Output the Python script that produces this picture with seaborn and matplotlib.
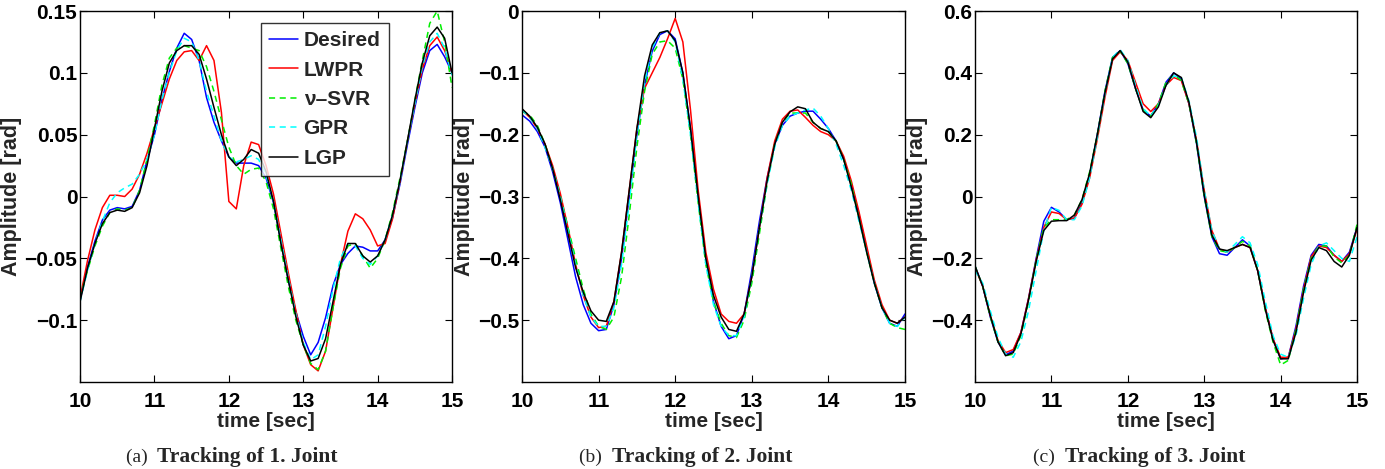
import numpy as np
import pandas as pd
import matplotlib.pyplot as plt
import seaborn as sns

# time axis shared by every series (0.1 s steps)
time = [10.0, 10.1, 10.2, 10.3, 10.4, 10.5, 10.6, 10.7, 10.8, 10.9,
        11.0, 11.1, 11.2, 11.3, 11.4, 11.5, 11.6, 11.7, 11.8, 11.9,
        12.0, 12.1, 12.2, 12.3, 12.4, 12.5, 12.6, 12.7, 12.8, 12.9,
        13.0, 13.1, 13.2, 13.3, 13.4, 13.5, 13.6, 13.7, 13.8, 13.9,
        14.0, 14.1, 14.2, 14.3, 14.4, 14.5, 14.6, 14.7, 14.8, 14.9, 15.0]

methods = ['Desired', 'LWPR', 'ν–SVR', 'GPR', 'LGP']

#### Joint 1
j1_desired = [-0.084, -0.057, -0.036, -0.019, -0.011, -0.009, -0.010, -0.008, 0.005, 0.029,
              0.050, 0.078, 0.101, 0.120, 0.132, 0.127, 0.110, 0.080, 0.060, 0.045,
              0.032, 0.027, 0.027, 0.027, 0.025, 0.015, -0.005, -0.037, -0.068, -0.093,
              -0.113, -0.128, -0.118, -0.098, -0.072, -0.055, -0.046, -0.040, -0.041, -0.044,
              -0.044, -0.035, -0.017, 0.010, 0.042, 0.072, 0.100, 0.118, 0.123, 0.113, 0.100]
j1_lwpr = [-0.082, -0.052, -0.027, -0.009, 0.001, 0.001, 0.000, 0.006, 0.018, 0.035,
           0.055, 0.075, 0.095, 0.110, 0.117, 0.118, 0.110, 0.122, 0.110, 0.068,
           -0.004, -0.010, 0.025, 0.044, 0.042, 0.025, 0.002, -0.030, -0.062, -0.092,
           -0.120, -0.136, -0.141, -0.125, -0.090, -0.055, -0.028, -0.014, -0.018, -0.027,
           -0.040, -0.038, -0.018, 0.012, 0.045, 0.075, 0.103, 0.122, 0.129, 0.118, 0.100]
j1_svr = [-0.082, -0.060, -0.040, -0.024, -0.013, -0.010, -0.011, -0.009, 0.005, 0.030,
          0.058, 0.090, 0.112, 0.120, 0.122, 0.120, 0.118, 0.105, 0.085, 0.062,
          0.040, 0.025, 0.018, 0.022, 0.023, 0.012, -0.010, -0.042, -0.073, -0.100,
          -0.120, -0.135, -0.140, -0.125, -0.090, -0.058, -0.040, -0.038, -0.048, -0.058,
          -0.050, -0.035, -0.013, 0.015, 0.045, 0.078, 0.110, 0.140, 0.150, 0.125, 0.088]
j1_gpr = [-0.085, -0.060, -0.038, -0.020, -0.005, 0.003, 0.007, 0.010, 0.018, 0.030,
          0.050, 0.078, 0.100, 0.118, 0.128, 0.125, 0.110, 0.085, 0.065, 0.045,
          0.032, 0.028, 0.030, 0.033, 0.030, 0.017, -0.004, -0.035, -0.066, -0.095,
          -0.118, -0.132, -0.128, -0.105, -0.075, -0.050, -0.038, -0.040, -0.050, -0.055,
          -0.048, -0.035, -0.015, 0.012, 0.045, 0.075, 0.105, 0.125, 0.132, 0.120, 0.098]
j1_lgp = [-0.085, -0.058, -0.038, -0.022, -0.013, -0.011, -0.012, -0.009, 0.003, 0.025,
          0.055, 0.085, 0.108, 0.118, 0.122, 0.122, 0.115, 0.095, 0.072, 0.050,
          0.032, 0.025, 0.030, 0.038, 0.035, 0.020, -0.004, -0.038, -0.068, -0.097,
          -0.120, -0.133, -0.131, -0.115, -0.085, -0.055, -0.038, -0.038, -0.048, -0.053,
          -0.048, -0.035, -0.015, 0.013, 0.045, 0.078, 0.108, 0.130, 0.137, 0.128, 0.100]

#### Joint 2
j2_desired = [-0.168, -0.178, -0.195, -0.220, -0.260, -0.310, -0.370, -0.430, -0.475, -0.505,
              -0.517, -0.515, -0.475, -0.400, -0.300, -0.200, -0.120, -0.065, -0.038, -0.032,
              -0.045, -0.100, -0.190, -0.300, -0.400, -0.470, -0.510, -0.530, -0.525, -0.490,
              -0.420, -0.340, -0.270, -0.215, -0.185, -0.170, -0.165, -0.162, -0.162, -0.175,
              -0.190, -0.210, -0.240, -0.280, -0.330, -0.385, -0.440, -0.480, -0.505, -0.510, -0.490]
j2_lwpr = [-0.160, -0.172, -0.190, -0.215, -0.250, -0.295, -0.350, -0.410, -0.460, -0.495,
           -0.512, -0.510, -0.470, -0.390, -0.290, -0.190, -0.125, -0.100, -0.075, -0.045,
           -0.012, -0.050, -0.160, -0.290, -0.390, -0.450, -0.490, -0.502, -0.505, -0.490,
           -0.430, -0.350, -0.270, -0.210, -0.175, -0.162, -0.160, -0.172, -0.185, -0.195,
           -0.200, -0.210, -0.235, -0.275, -0.325, -0.380, -0.435, -0.475, -0.500, -0.505, -0.495]
j2_svr = [-0.162, -0.168, -0.185, -0.215, -0.255, -0.300, -0.350, -0.400, -0.450, -0.490,
          -0.510, -0.515, -0.495, -0.430, -0.330, -0.220, -0.130, -0.070, -0.050, -0.048,
          -0.060, -0.110, -0.200, -0.310, -0.410, -0.470, -0.505, -0.525, -0.528, -0.500,
          -0.440, -0.360, -0.280, -0.215, -0.180, -0.165, -0.165, -0.165, -0.180, -0.190,
          -0.195, -0.210, -0.240, -0.280, -0.335, -0.390, -0.440, -0.480, -0.505, -0.512, -0.515]
j2_gpr = [-0.160, -0.172, -0.190, -0.220, -0.255, -0.300, -0.355, -0.410, -0.460, -0.495,
          -0.510, -0.510, -0.480, -0.410, -0.310, -0.200, -0.115, -0.060, -0.035, -0.032,
          -0.050, -0.110, -0.200, -0.310, -0.410, -0.475, -0.510, -0.525, -0.525, -0.495,
          -0.430, -0.350, -0.280, -0.220, -0.185, -0.170, -0.165, -0.160, -0.157, -0.170,
          -0.190, -0.215, -0.250, -0.290, -0.340, -0.390, -0.440, -0.480, -0.505, -0.510, -0.495]
j2_lgp = [-0.158, -0.170, -0.188, -0.215, -0.255, -0.305, -0.360, -0.415, -0.455, -0.485,
          -0.500, -0.502, -0.470, -0.390, -0.290, -0.190, -0.105, -0.055, -0.035, -0.032,
          -0.048, -0.100, -0.190, -0.300, -0.400, -0.460, -0.495, -0.515, -0.518, -0.490,
          -0.430, -0.350, -0.275, -0.215, -0.180, -0.163, -0.155, -0.158, -0.180, -0.190,
          -0.195, -0.210, -0.240, -0.285, -0.335, -0.390, -0.440, -0.480, -0.500, -0.505, -0.495]

#### Joint 3
j3_desired = [-0.225, -0.290, -0.390, -0.470, -0.512, -0.500, -0.440, -0.330, -0.200, -0.080,
              -0.035, -0.050, -0.075, -0.070, -0.020, 0.070, 0.200, 0.340, 0.450, 0.472,
              0.430, 0.350, 0.280, 0.260, 0.300, 0.370, 0.400, 0.380, 0.300, 0.170,
              0.000, -0.130, -0.185, -0.190, -0.165, -0.140, -0.160, -0.240, -0.360, -0.460,
              -0.525, -0.520, -0.420, -0.290, -0.190, -0.155, -0.160, -0.190, -0.210, -0.180, -0.100]
j3_lwpr = [-0.230, -0.290, -0.385, -0.465, -0.505, -0.495, -0.440, -0.330, -0.205, -0.100,
           -0.050, -0.055, -0.075, -0.070, -0.025, 0.060, 0.185, 0.320, 0.440, 0.468,
           0.440, 0.370, 0.300, 0.275, 0.300, 0.360, 0.385, 0.375, 0.300, 0.180,
           0.020, -0.110, -0.170, -0.180, -0.165, -0.155, -0.165, -0.240, -0.360, -0.460,
           -0.520, -0.520, -0.430, -0.300, -0.195, -0.160, -0.165, -0.190, -0.210, -0.185, -0.105]
j3_svr = [-0.225, -0.290, -0.390, -0.470, -0.515, -0.510, -0.450, -0.340, -0.205, -0.100,
          -0.075, -0.075, -0.075, -0.060, -0.010, 0.080, 0.200, 0.340, 0.450, 0.470,
          0.430, 0.350, 0.280, 0.260, 0.300, 0.370, 0.395, 0.375, 0.300, 0.170,
          0.000, -0.130, -0.175, -0.180, -0.165, -0.145, -0.160, -0.240, -0.370, -0.470,
          -0.545, -0.530, -0.430, -0.300, -0.200, -0.160, -0.160, -0.195, -0.215, -0.190, -0.090]
j3_gpr = [-0.240, -0.280, -0.370, -0.455, -0.510, -0.520, -0.470, -0.370, -0.240, -0.110,
          -0.035, -0.045, -0.075, -0.075, -0.030, 0.060, 0.190, 0.330, 0.450, 0.475,
          0.440, 0.360, 0.285, 0.260, 0.295, 0.360, 0.390, 0.385, 0.310, 0.190,
          0.020, -0.110, -0.170, -0.180, -0.155, -0.130, -0.150, -0.220, -0.340, -0.450,
          -0.510, -0.520, -0.450, -0.330, -0.220, -0.160, -0.150, -0.175, -0.200, -0.210, -0.130]
j3_lgp = [-0.225, -0.290, -0.385, -0.470, -0.515, -0.505, -0.445, -0.335, -0.210, -0.110,
          -0.080, -0.078, -0.078, -0.060, -0.010, 0.075, 0.200, 0.335, 0.445, 0.472,
          0.435, 0.350, 0.275, 0.255, 0.290, 0.360, 0.400, 0.385, 0.305, 0.175,
          0.005, -0.125, -0.170, -0.175, -0.165, -0.155, -0.165, -0.240, -0.365, -0.465,
          -0.525, -0.525, -0.440, -0.310, -0.205, -0.165, -0.175, -0.210, -0.228, -0.190, -0.100]

x_ticks = [10, 11, 12, 13, 14, 15]
y_ticks = [[-0.1, -0.05, 0, 0.05, 0.1, 0.15],
           [-0.5, -0.4, -0.3, -0.2, -0.1, 0],
           [-0.4, -0.2, 0, 0.2, 0.4, 0.6]]
y_ticklabels = [['\u22120.1', '\u22120.05', '0', '0.05', '0.1', '0.15'],
                ['\u22120.5', '\u22120.4', '\u22120.3', '\u22120.2', '\u22120.1', '0'],
                ['\u22120.4', '\u22120.2', '0', '0.2', '0.4', '0.6']]
y_limits = [(-0.15, 0.15), (-0.6, 0.0), (-0.6, 0.6)]
captions = [('(a)', 'Tracking of 1. Joint'),
            ('(b)', 'Tracking of 2. Joint'),
            ('(c)', 'Tracking of 3. Joint')]

joints = [[j1_desired, j1_lwpr, j1_svr, j1_gpr, j1_lgp],
          [j2_desired, j2_lwpr, j2_svr, j2_gpr, j2_lgp],
          [j3_desired, j3_lwpr, j3_svr, j3_gpr, j3_lgp]]

colors = {'Desired': '#0000ff', 'LWPR': '#ff0000', 'ν–SVR': '#00ee00',
          'GPR': '#00ffff', 'LGP': '#000000'}
styles = {'Desired': '-', 'LWPR': '-', 'ν–SVR': (0, (4, 3)),
          'GPR': (0, (4, 3)), 'LGP': '-'}

sns.set_theme(style='ticks')
sans = ['Liberation Sans', 'DejaVu Sans']
plt.rcParams['font.family'] = sans
plt.rcParams['font.weight'] = 'bold'
plt.rcParams['axes.unicode_minus'] = True

fig = plt.figure(figsize=(13.85, 4.69), dpi=100)
positions = [[0.0578, 0.1855, 0.2686, 0.791],
             [0.3769, 0.1855, 0.2765, 0.791],
             [0.7040, 0.1855, 0.2758, 0.791]]
caption_x = [0.110, 0.438, 0.765]

for k in range(3):
    ax = fig.add_axes(positions[k])
    for name, vals in zip(methods, joints[k]):
        df = pd.DataFrame({'time': time, 'amp': vals})
        sns.lineplot(data=df, x='time', y='amp', ax=ax, color=colors[name],
                     linestyle=styles[name], linewidth=1.1, label=name,
                     legend=False)
    ax.set_xlim(10, 15)
    ax.set_ylim(*y_limits[k])
    ax.set_xticks(x_ticks)
    ax.set_xticklabels([str(v) for v in x_ticks])
    ax.set_yticks(y_ticks[k])
    ax.set_yticklabels(y_ticklabels[k])
    ax.tick_params(direction='in', top=True, right=True, length=5, width=0.8,
                   labelsize=15, colors='black')
    ax.tick_params(axis='y', pad=2)
    ax.tick_params(axis='x', pad=7)
    for lab in ax.get_xticklabels() + ax.get_yticklabels():
        lab.set_fontweight('bold')
    for s in ax.spines.values():
        s.set_linewidth(1.0)
        s.set_color('black')
    ax.set_xlabel('time [sec]', fontsize=15, fontweight='bold', labelpad=1)
    ax.set_ylabel('Amplitude [rad]', fontsize=15.5, fontweight='bold', labelpad=2)

    if k == 0:
        leg = ax.legend(loc='upper right', bbox_to_anchor=(0.83, 0.968),
                        fontsize=15, frameon=True, fancybox=False,
                        handlelength=1.4, labelspacing=0.5, borderpad=0.4,
                        handletextpad=0.25, borderaxespad=0.0)
        leg.get_frame().set_edgecolor('black')
        leg.get_frame().set_linewidth(1.0)
        for t in leg.get_texts():
            t.set_fontweight('bold')

    tag, title = captions[k]
    fig.text(caption_x[k], 0.025, tag + ' ', ha='right', va='center',
             fontsize=14, family=['Liberation Serif', 'DejaVu Serif'],
             fontweight='normal')
    fig.text(caption_x[k], 0.025, ' ' + title, ha='left', va='center',
             fontsize=15.5, family=['Liberation Serif', 'DejaVu Serif'],
             fontweight='bold')

fig.savefig('out.png', dpi=100)
